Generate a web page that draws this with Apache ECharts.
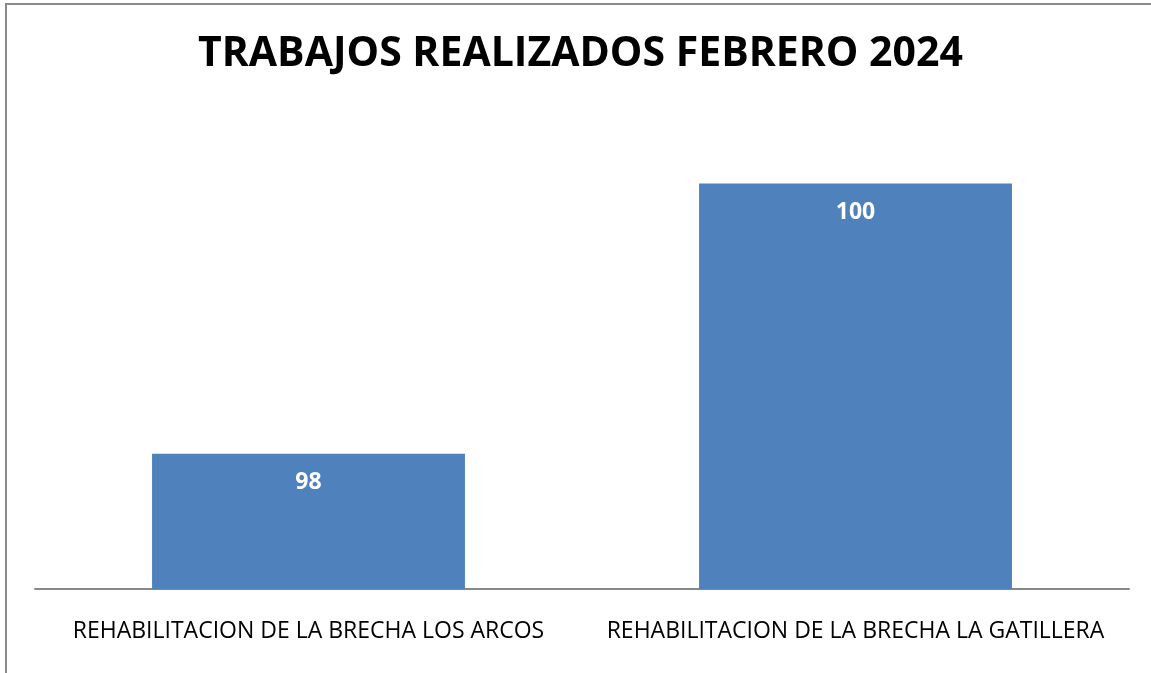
<!DOCTYPE html>
<html><head><meta charset="utf-8">
<script src="https://cdn.jsdelivr.net/npm/echarts@6/dist/echarts.min.js"></script>
<style>html,body{margin:0;padding:0;background:#fff}#c{width:1151px;height:673px}</style>
</head><body><div id="c"></div>
<script>
const categories = ['REHABILITACION DE LA BRECHA LOS ARCOS', 'REHABILITACION DE LA BRECHA LA GATILLERA'];
const values = [98, 100];
const titleText = 'TRABAJOS REALIZADOS FEBRERO 2024';

const chart = echarts.init(document.getElementById('c'), null, {renderer: 'canvas'});
chart.setOption({
  animation: false,
  backgroundColor: '#fff',
  graphic: [
    {type: 'rect', shape: {x: 6, y: 4, width: 1300, height: 800}, style: {fill: 'none', stroke: '#8a8a8a', lineWidth: 2}, z: 100},
    {type: 'text', left: 198, top: 34, style: {text: titleText, font: 'bold 41px "Open Sans", sans-serif', fill: '#000'}}
  ],
  grid: {left: 35, right: 22, top: 116, bottom: 84},
  xAxis: {
    type: 'category', data: categories,
    axisLine: {lineStyle: {color: '#888', width: 2}},
    axisTick: {show: false},
    axisLabel: {color: '#000', fontSize: 23, fontFamily: '"Open Sans", sans-serif', margin: 31, interval: 0, hideOverlap: false}
  },
  yAxis: {type: 'value', min: 97, max: 100.5, interval: 0.5, show: false, splitLine: {show: false}},
  series: [{
    type: 'bar', data: values, barWidth: '57.2%',
    itemStyle: {color: '#4F81BD'},
    label: {show: true, position: 'insideTop', distance: 17, color: '#fff', fontWeight: 'bold', fontSize: 23, fontFamily: '"Open Sans", sans-serif'}
  }]
});
</script></body></html>
